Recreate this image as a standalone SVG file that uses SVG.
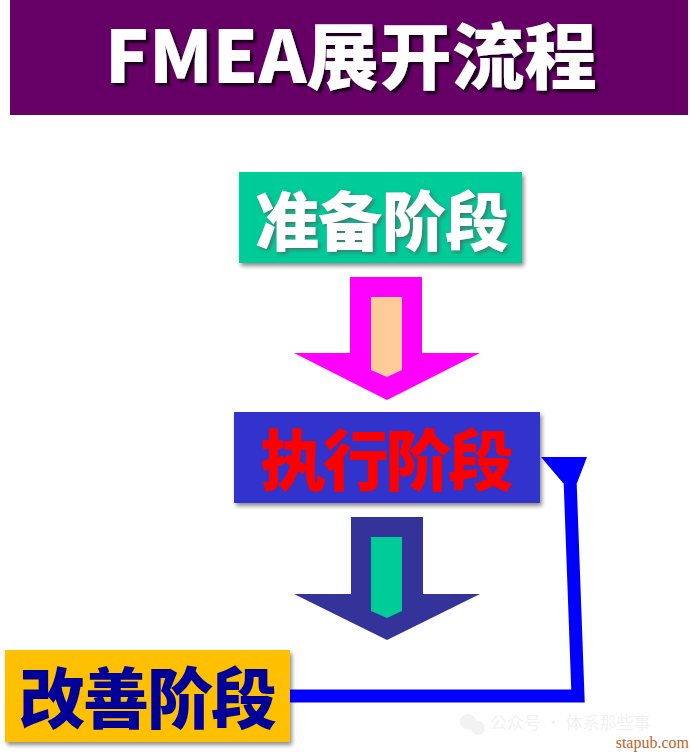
<svg xmlns="http://www.w3.org/2000/svg" width="690" height="752" viewBox="0 0 690 752">
<defs>
<style>
.cjk{font-family:"Noto Sans CJK SC","Noto Sans",sans-serif;font-weight:900;text-anchor:middle}
.conn{fill:none;stroke:#0000ff;stroke-width:13;stroke-linejoin:miter}
</style>
<filter id="shadow" x="-10%" y="-10%" width="125%" height="130%">
<feDropShadow dx="2" dy="3" stdDeviation="2" flood-color="#000" flood-opacity="0.45"/>
</filter>
<filter id="tshadow" x="-5%" y="-10%" width="115%" height="130%">
<feDropShadow dx="3" dy="3" stdDeviation="1" flood-color="#000" flood-opacity="0.75"/>
</filter>
<filter id="glow" x="-10%" y="-20%" width="120%" height="140%">
<feGaussianBlur in="SourceAlpha" stdDeviation="2" result="b"/>
<feOffset dx="2" dy="2" in="b" result="o"/>
<feFlood flood-color="#555" flood-opacity="0.7"/>
<feComposite in2="o" operator="in" result="s"/>
<feMerge><feMergeNode in="s"/><feMergeNode in="SourceGraphic"/></feMerge>
</filter>
</defs>
<rect width="690" height="752" fill="#ffffff"/>

<g id="title">
<rect x="10" y="0" width="678" height="115" fill="#660066"/>
<text class="cjk" x="351" y="83" font-size="72" fill="#ffffff" textLength="492" lengthAdjust="spacingAndGlyphs" filter="url(#tshadow)">FMEA展开流程</text>
</g>

<g id="prep">
<rect x="239" y="172" width="283" height="91" fill="#00cc99" filter="url(#shadow)"/>
<text class="cjk" x="382" y="245" font-size="64" fill="#ffffff" textLength="254" lengthAdjust="spacing" filter="url(#glow)">准备阶段</text>
</g>

<g id="arrow1">
<polygon points="350,277 422,277 422,353 480,353 387,400 294,353 350,353" fill="#ff00ff"/>
<polygon points="371,297 402,297 402,370 387,377 371,370" fill="#ffcc99"/>
</g>

<g id="exec">
<rect x="234" y="412" width="306" height="91" fill="#3333cc" filter="url(#shadow)"/>
<text class="cjk" x="387" y="485" font-size="66" fill="#ff0000" textLength="254" lengthAdjust="spacing">执行阶段</text>
</g>

<g id="arrow2">
<polygon points="351,517 423,517 423,594 480,594 387,640 294,594 351,594" fill="#333399"/>
<polygon points="371,537 402,537 402,611 387,618 371,611" fill="#00cc99"/>
</g>

<g id="improve">
<rect x="5" y="650" width="285" height="92" fill="#ffc000" filter="url(#shadow)"/>
<text class="cjk" x="148" y="723" font-size="66" fill="#000099" textLength="258" lengthAdjust="spacing">改善阶段</text>
</g>

<g id="connectors">
<polyline class="conn" points="290,696 578,696 570,478"/>
<polygon points="541,457 587,457 577,483 563,483" fill="#0000ff"/>
</g>

<g id="watermark" opacity="0.1">
<circle cx="468" cy="722" r="8" fill="#888"/>
<circle cx="478" cy="728" r="7" fill="#888"/>
<text x="490" y="729" font-family="Noto Sans CJK SC, sans-serif" font-size="17" fill="#777">公众号 · 体系那些事</text>
</g>
<text x="689" y="748" font-family="Liberation Serif, serif" font-size="16" fill="#c0622a" text-anchor="end">stapub.com</text>
</svg>
